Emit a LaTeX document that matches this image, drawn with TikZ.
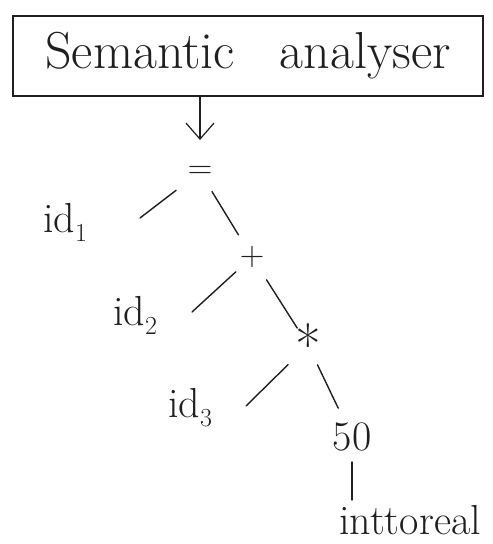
\documentclass[tikz,border=0pt]{standalone}
\usepackage{amsmath}
\usepackage{tikz}
\usetikzlibrary{arrows.meta,positioning,calc}
\definecolor{ink}{HTML}{1F1F1F}
\tikzset{
  box/.style={draw=ink,line width=1.2pt,minimum width=470pt,minimum height=80pt,
    font=\fontsize{52}{60}\selectfont,text=ink},
  lbl/.style={font=\fontsize{42}{50}\selectfont,text=ink,inner sep=2pt},
  op/.style={font=\fontsize{34}{40}\selectfont,text=ink,inner sep=2pt},
  edge/.style={line width=1.4pt,draw=ink,line cap=round},
  arr/.style={-{Straight Barb[length=16pt,width=28pt]},line width=1.2pt,draw=ink}
}
\newcommand{\idx}[1]{id\raisebox{-9pt}{\fontsize{26}{30}\selectfont #1}}

\begin{document}
\begin{tikzpicture}[x=1pt,y=1pt,on grid]
 \useasboundingbox (0,0) rectangle (493,544);
 \node[box] (sem) at (248,488) {Semantic\hspace{45pt}analyser};
 \node[op] (eq) at (200,372) {=};
 \node[op,below right=85pt and 52pt of eq] (plus) {+};
 \node[op,font=\fontsize{56}{60}\selectfont,below right=88pt and 56pt of plus] (star) {\raisebox{-0.28em}{*}};
 \node[lbl,below right=92pt and 44pt of star] (fifty) {50};
 \node[lbl,below right=83pt and 58pt of fifty] (itr) {inttoreal};
 \node[lbl,below left=50pt and 135pt of eq] (id1) {\idx{1}};
 \node[lbl,below left=58pt and 117pt of plus] (id2) {\idx{2}};
 \node[lbl,below left=63pt and 118pt of star] (id3) {\idx{3}};
 % loose ends of the left branches
 \coordinate (l1) at (140,326);
 \coordinate (l2) at (192,232);
 \coordinate (l3) at (246,138);
 \draw[arr] (sem.south -| eq) -- ($(eq)+(0,32)$);
 \draw[edge,shorten <=30pt] (eq.center) -- (l1);
 \draw[edge,shorten <=23pt,shorten >=26pt] (eq.center) -- (plus.center);
 \draw[edge,shorten <=22pt] (plus.center) -- (l2);
 \draw[edge,shorten <=27pt,shorten >=20pt] (plus.center) -- (star.center);
 \draw[edge,shorten <=28pt] (star.center) -- (l3);
 \draw[edge,shorten <=22pt,shorten >=32pt] (star.center) -- (fifty.center);
 \draw[edge,shorten <=25pt,shorten >=20pt] (fifty.center) -- (fifty.center |- itr.center);
\end{tikzpicture}
\end{document}
